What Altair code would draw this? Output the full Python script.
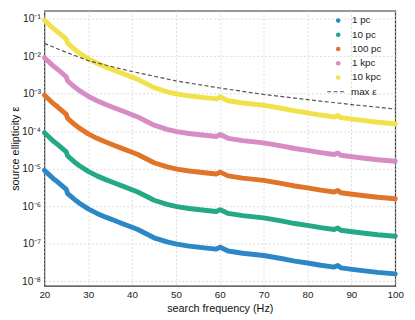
import altair as alt
import pandas as pd

# search frequencies (Hz) at which the 1 pc curve was read
freq = [20, 21, 22, 23, 24, 25, 25.3, 26, 27, 28, 30, 32, 34, 36, 38, 40, 41.3, 43, 45, 48,
        50.2, 53, 56, 59.2, 60.1, 61.9, 65.2, 70, 74, 77.1, 80, 83, 86.1, 86.9, 87.6, 90.2,
        93, 96, 100]
# log10 of source ellipticity for a source at 1 pc
log_eps_1pc = [-5.04, -5.15, -5.26, -5.35, -5.45, -5.55, -5.66, -5.73, -5.83, -5.92,
               -6.07, -6.19, -6.29, -6.38, -6.47, -6.56, -6.62, -6.72, -6.84, -6.95,
               -7.01, -7.06, -7.10, -7.14, -7.09, -7.19, -7.25, -7.31, -7.39, -7.46,
               -7.51, -7.57, -7.62, -7.58, -7.64, -7.68, -7.72, -7.76, -7.80]

distances = ["1 pc", "10 pc", "100 pc", "1 kpc", "10 kpc"]
distance_pc = [1, 10, 100, 1000, 10000]
colors = ["#2b87c5", "#23a986", "#e0752a", "#d78cc4", "#f1e24c"]

max_freq = [20, 25, 30, 35, 40, 50, 60, 70, 80, 90, 100]
max_log_eps = [-1.66, -1.90, -2.12, -2.27, -2.41, -2.66, -2.85, -3.02, -3.16, -3.29, -3.41]

rows = []
for name, d in zip(distances, distance_pc):
    for f, le in zip(freq, log_eps_1pc):
        rows.append({"freq": f, "eps": (10 ** le) * d, "source": name})
df = pd.DataFrame(rows)
dfmax = pd.DataFrame({"freq": max_freq,
                      "eps": [10 ** v for v in max_log_eps],
                      "kind": ["max ε"] * len(max_freq)})

FONT = "Liberation Sans"

x = alt.X("freq:Q",
          scale=alt.Scale(domain=[20, 100], nice=False, zero=False),
          axis=alt.Axis(title="search frequency (Hz)", values=list(range(20, 101, 10)),
                        labelFlush=False, labelPadding=4, titlePadding=3))
y = alt.Y("eps:Q",
          scale=alt.Scale(type="log", domain=[10 ** -8.12, 10 ** -0.79], nice=False),
          axis=alt.Axis(title="source ellipticity ε",
                        values=[1e-1, 1e-2, 1e-3, 1e-4, 1e-5, 1e-6, 1e-7, 1e-8],
                        labelExpr="'10' + ['⁰','⁻¹','⁻²','⁻³','⁻⁴','⁻⁵','⁻⁶','⁻⁷','⁻⁸'][-round(log(datum.value)/LN10)]",
                        labelFlush=False, labelFontSize=10.5, labelPadding=4, titlePadding=0))

cscale = alt.Scale(domain=distances, range=colors)

dots = alt.Chart(df).mark_circle(size=10, opacity=1).encode(
    x=x, y=y,
    fill=alt.Fill("source:N", scale=cscale, sort=distances,
                  legend=alt.Legend(title=None, orient="none", legendX=294, legendY=5,
                                    symbolType="circle", symbolSize=22, symbolOpacity=1,
                                    labelFont=FONT, labelFontSize=10, labelColor="#222",
                                    rowPadding=4.5, labelOffset=9, padding=0)),
)

lines = alt.Chart(df).mark_line(strokeWidth=5, strokeCap="round", strokeJoin="round").encode(
    x=x, y=y,
    stroke=alt.Stroke("source:N", scale=cscale, legend=None),
    detail="source:N",
)

maxline = alt.Chart(dfmax).mark_line(color="#555555", strokeWidth=1.2).encode(
    x=x, y=y,
    strokeDash=alt.StrokeDash("kind:N",
                              scale=alt.Scale(domain=["max ε"], range=[[4, 2.5]]),
                              legend=alt.Legend(title=None, orient="none", legendX=287, legendY=73,
                                                symbolType="stroke", symbolSize=300,
                                                symbolStrokeColor="#555555", symbolStrokeWidth=1.2,
                                                labelFont=FONT, labelFontSize=10, labelColor="#222",
                                                labelOffset=6, padding=0)),
)

chart = alt.layer(dots, lines, maxline).resolve_legend(
    fill="independent", strokeDash="independent"
).properties(
    width=357, height=280,
    autosize=alt.AutoSizeParams(type="none"),
    padding={"left": 37, "top": 0, "right": 12, "bottom": 32},
).configure_view(
    stroke="#333333", strokeWidth=1.2
).configure_axis(
    labelFont=FONT, titleFont=FONT, labelFontSize=10, titleFontSize=11,
    titleFontWeight="normal", labelColor="#222", titleColor="#111",
    grid=True, gridColor="#d2d2d2", gridDash=[2, 2], gridWidth=0.8,
    domain=False, ticks=False,
)

chart.save("out.html", embed_options={"renderer": "svg", "actions": False})
